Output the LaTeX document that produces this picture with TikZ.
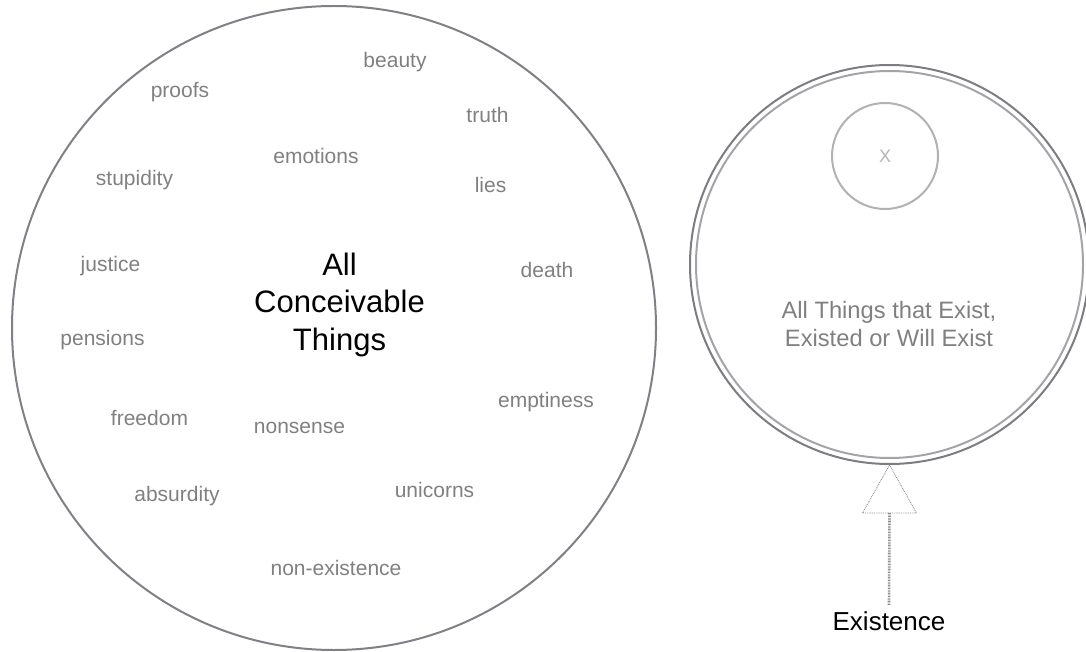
\documentclass[tikz,border=0pt]{standalone}
\usepackage{fontspec}
\setmainfont{Liberation Sans}
\usetikzlibrary{calc}
\definecolor{bigline}{HTML}{808086}
\definecolor{outerline}{HTML}{7C7C82}
\definecolor{innerline}{HTML}{A4A4A8}
\definecolor{smallline}{HTML}{B2B2B6}
\definecolor{labelgray}{HTML}{808080}
\definecolor{xgray}{HTML}{B4B4B4}
\definecolor{arrowgray}{HTML}{8A8A8A}
\begin{document}
\begin{tikzpicture}[x=1pt,y=-1pt,
  ring/.style={circle, draw, inner sep=0pt, line width=2pt},
  word/.style={anchor=base, inner sep=0pt, text=labelgray, font=\fontsize{21}{25}\selectfont},
  arrowline/.style={draw=arrowgray, line width=0.8pt, dash pattern=on 0.9pt off 0.9pt}
]
\useasboundingbox (0,0) rectangle (1086,652);

% left circle
\node[ring, draw=bigline, minimum size=644pt] (big) at (334,328) {};
\node[anchor=north, inner sep=0pt, align=center, text=black,
      font=\fontsize{31}{37.5}\selectfont] (allc) at (339.5,252.5)
  {All\\Conceivable\\Things};

\node[word] (beauty) at (395,68) {beauty};
\node[word] (proofs) at (180,98) {proofs};
\node[word] (truth) at (487.5,123) {truth};
\node[word] (emotions) at (316,164) {emotions};
\node[word] (stupidity) at (134.5,186) {stupidity};
\node[word] (lies) at (490.5,193) {lies};
\node[word] (justice) at (110.5,271) {justice};
\node[word] (death) at (547,277) {death};
\node[word] (pensions) at (102.5,345) {pensions};
\node[word] (emptiness) at (546,407) {emptiness};
\node[word] (freedom) at (149.5,425) {freedom};
\node[word] (nonsense) at (299.5,433) {nonsense};
\node[word] (unicorns) at (434.5,497) {unicorns};
\node[word] (absurdity) at (177,501) {absurdity};
\node[word] (nonex) at (336,575) {non-existence};

% right circle
\node[ring, draw=outerline, minimum size=399pt] (outer) at (889.5,264.5) {};
\node[ring, draw=innerline, minimum size=387pt] (inner) at (889.5,264.5) {};
\node[ring, draw=smallline, minimum size=106pt] (small) at (885,156) {};
\node[inner sep=0pt, text=xgray, font=\fontsize{18}{21}\selectfont] (xlabel) at (small.center) {X};
\node[anchor=north, inner sep=0pt, align=center, text=labelgray,
      font=\fontsize{23.7}{28.7}\selectfont] (exist) at (889,300.7)
  {All Things that Exist,\\Existed or Will Exist};

% arrow
\node[anchor=base, inner sep=0pt, text=black, font=\fontsize{26}{30}\selectfont] (existence) at (889,630) {Existence};
\coordinate (tipbase) at ($(outer.south)+(0,48)$);
\draw[arrowline] (outer.south) -- ++(-27,48) -- ++(54,0) -- cycle;
\draw[draw=arrowgray, line width=2.6pt, dash pattern=on 0.8pt off 0.8pt] (existence.north) ++(0,-6) -- (tipbase);
\end{tikzpicture}
\end{document}
